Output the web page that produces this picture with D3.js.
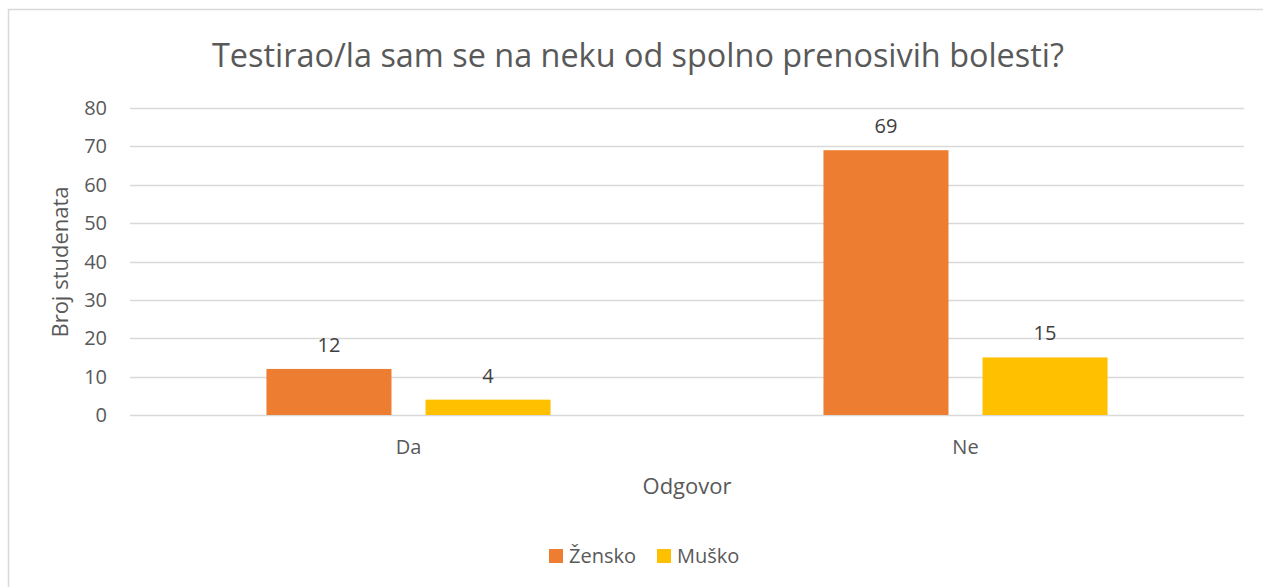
<!DOCTYPE html>
<html>
<head>
<meta charset="utf-8">
<script src="https://cdn.jsdelivr.net/npm/d3@7"></script>
<style>
  body { margin: 0; background: #fff; }
  text { font-family: "Open Sans", "Noto Sans", sans-serif; fill: #595959; }
</style>
</head>
<body>
<div id="chart"></div>
<script>
// chart data
var categories = ["Da", "Ne"];
var seriesNames = ["Žensko", "Muško"];
var zensko = [12, 69];
var musko = [4, 15];
var yTicks = [0, 10, 20, 30, 40, 50, 60, 70, 80];
var colors = ["#ED7D31", "#FFC000"];

(function() {
	var width = 1263, height = 587;
	var plotLeft = 130, plotRight = 1244, plotTop = 108, plotBottom = 415;

	var svg = d3.select("#chart").append("svg")
		.attr("width", width)
		.attr("height", height);

	// outer frame (cut off at right and bottom, like the screenshot)
	svg.append("rect")
		.attr("x", 8.5).attr("y", 9.5)
		.attr("width", 1300).attr("height", 640)
		.attr("fill", "#fff")
		.attr("stroke", "#d9d9d9")
		.attr("stroke-width", 1.5);

	var x = d3.scaleBand().domain(categories).range([plotLeft, plotRight]);
	var inner = d3.scaleBand().domain(seriesNames)
		.range([0, x.bandwidth()])
		.paddingInner(0.214)
		.paddingOuter(0.858);
	var y = d3.scaleLinear().domain([0, 80]).range([plotBottom, plotTop]);

	// gridlines
	svg.append("g").selectAll("line")
		.data(yTicks)
		.enter().append("line")
		.attr("x1", plotLeft).attr("x2", plotRight)
		.attr("y1", function(d) { return Math.round(y(d)) + 0.5; })
		.attr("y2", function(d) { return Math.round(y(d)) + 0.5; })
		.attr("stroke", "#d9d9d9")
		.attr("stroke-width", 1.5);

	// y tick labels
	svg.append("g").selectAll("text")
		.data(yTicks)
		.enter().append("text")
		.attr("x", 107)
		.attr("y", function(d) { return y(d); })
		.attr("dy", "0.35em")
		.attr("text-anchor", "end")
		.style("font-size", "20px")
		.text(function(d) { return d; });

	// bars
	var series = [zensko, musko];
	series.forEach(function(values, s) {
		var g = svg.append("g");
		g.selectAll("rect")
			.data(values)
			.enter().append("rect")
			.attr("x", function(d, i) { return x(categories[i]) + inner(seriesNames[s]); })
			.attr("y", function(d) { return y(d); })
			.attr("width", inner.bandwidth())
			.attr("height", function(d) { return y(0) - y(d); })
			.attr("fill", colors[s]);
		g.selectAll("text")
			.data(values)
			.enter().append("text")
			.attr("x", function(d, i) { return x(categories[i]) + inner(seriesNames[s]) + inner.bandwidth() / 2; })
			.attr("y", function(d) { return y(d) - 17; })
			.attr("text-anchor", "middle")
			.style("font-size", "20px")
			.style("fill", "#404040")
			.text(function(d) { return d; });
	});

	// category labels
	svg.append("g").selectAll("text")
		.data(categories)
		.enter().append("text")
		.attr("x", function(d) { return x(d) + x.bandwidth() / 2; })
		.attr("y", 454)
		.attr("text-anchor", "middle")
		.style("font-size", "20px")
		.text(function(d) { return d; });

	// title
	svg.append("text")
		.attr("x", 638)
		.attr("y", 67)
		.attr("text-anchor", "middle")
		.style("font-size", "32.4px")
		.text("Testirao/la sam se na neku od spolno prenosivih bolesti?");

	// axis titles
	svg.append("text")
		.attr("x", 687)
		.attr("y", 494)
		.attr("text-anchor", "middle")
		.style("font-size", "22px")
		.text("Odgovor");

	svg.append("text")
		.attr("transform", "translate(68,262) rotate(-90)")
		.attr("text-anchor", "middle")
		.style("font-size", "22px")
		.text("Broj studenata");

	// legend
	var legend = svg.append("g");
	var legendX = [549, 657];
	seriesNames.forEach(function(name, i) {
		legend.append("rect")
			.attr("x", legendX[i]).attr("y", 549)
			.attr("width", 14).attr("height", 14)
			.attr("fill", colors[i]);
		legend.append("text")
			.attr("x", legendX[i] + 20).attr("y", 556)
			.attr("dy", "0.35em")
			.style("font-size", "20px")
			.text(name);
	});
})();
</script>
</body>
</html>
